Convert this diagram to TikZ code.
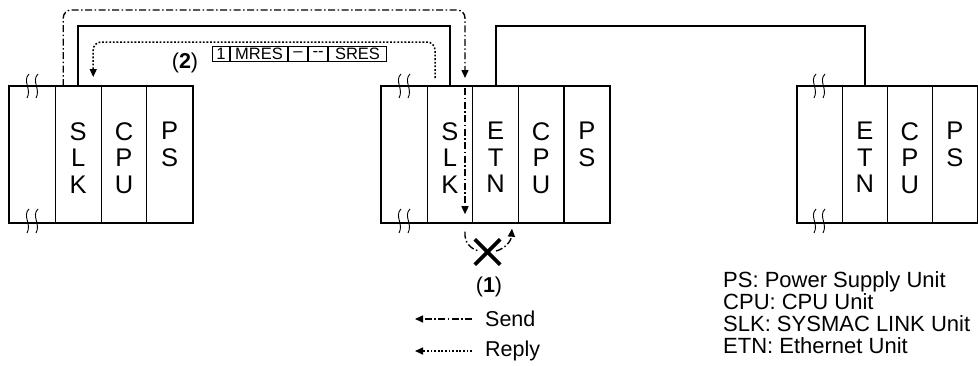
\documentclass[tikz,border=0pt]{standalone}
\usepackage{fontspec}
\setmainfont{Liberation Sans}
\usetikzlibrary{arrows.meta}
\begin{document}
\begin{tikzpicture}[x=1pt,y=-1pt,
  slot/.style={draw, line width=1.2pt, minimum height=135.5pt, inner sep=0pt, anchor=north west},
  rackout/.style={line width=2.2pt},
  lettr/.style={font=\fontsize{25.5}{26.5}\selectfont, align=center, inner sep=0pt, anchor=north},
  conn/.style={line width=2pt},
  send/.style={line width=1.4pt, dash pattern=on 7pt off 2.5pt on 1.5pt off 2.5pt},
  reply/.style={line width=1.5pt, dash pattern=on 1.8pt off 1.8pt},
  tip/.style={-{Triangle[length=8pt,width=7pt]}},
  cell/.style={draw, line width=1pt, minimum height=14.5pt, inner sep=0pt, anchor=west, font=\fontsize{16.5}{16.5}\selectfont},
  txt/.style={font=\fontsize{21.5}{22}\selectfont, inner sep=0pt},
  brk/.pic={\draw[line width=0.9pt] (1,-12) .. controls (-6,-5) and (4,3) .. (-1,12);
            \draw[line width=0.9pt] (10,-12) .. controls (3,-5) and (13,3) .. (8,12);}
]
\useasboundingbox (0,0) rectangle (978,365);

% ---------- racks ----------
\foreach \i in {0,...,3} {
  \node[slot, minimum width=45.75pt] (L\i) at (9+45.75*\i,86) {};
}
\foreach \i in {0,...,4} {
  \node[slot, minimum width=45.6pt] (M\i) at (381+45.6*\i,86) {};
}
\foreach \i in {0,...,3} {
  \node[slot, minimum width=44.9pt] (R\i) at (797+44.9*\i,86) {};
}
\draw[rackout] (L0.north west) rectangle (L3.south east);
\draw[rackout] (M0.north west) rectangle (M4.south east);
\draw[rackout] (R0.north west) rectangle (R3.south east);

% break marks
\pic at (28,86) {brk};
\pic at (28,221) {brk};
\pic at (400,86) {brk};
\pic at (400,221) {brk};
\pic at (815,86) {brk};
\pic at (815,221) {brk};

% ---------- letters ----------
\coordinate (ltop) at (0,122);
\node[lettr] (tL1) at (L1 |- ltop) {S\\L\\K};
\node[lettr] (tL2) at (L2 |- ltop) {C\\P\\U};
\node[lettr] (tL3) at (L3 |- ltop) {P\\S};
\node[lettr] (tM1) at (M1 |- ltop) {S\\L\\K};
\node[lettr] (tM2) at (M2 |- ltop) {E\\T\\N};
\node[lettr] (tM3) at (M3 |- ltop) {C\\P\\U};
\node[lettr] (tM4) at (M4 |- ltop) {P\\S};
\node[lettr] (tR1) at (R1 |- ltop) {E\\T\\N};
\node[lettr] (tR2) at (R2 |- ltop) {C\\P\\U};
\node[lettr] (tR3) at (R3 |- ltop) {P\\S};

% ---------- network cables ----------
\draw[conn] (L1.north) -- ++(0,-60) -| (M1.north);
\draw[conn] (M2.north) -- ++(0,-60) -| (R1.north);

% ---------- send (dash-dot) ----------
\draw[send, tip, rounded corners=8pt] ([xshift=-15pt]L1.north) -- ++(0,-76) -| ([xshift=15pt,yshift=8pt]M1.north);
\draw[send, tip] ([xshift=15pt,yshift=-2pt]M1.north) -- ([xshift=15pt,yshift=8.5pt]M1.south);

\node[inner sep=0pt, minimum size=25pt] (cross) at (487.5,252) {};
\draw[line width=3.8pt] (cross.north west) -- (cross.south east);
\draw[line width=3.8pt] (cross.south west) -- (cross.north east);
\coordinate (c1s) at ([xshift=15pt,yshift=-9pt]M1.south);
\coordinate (c1e) at (479,251);
\coordinate (c2s) at (496,251);
\coordinate (c2e) at ([xshift=-7pt,yshift=-6pt]M2.south east);
\draw[send] (c1s) .. controls (464,243) and (471,249) .. (c1e);
\draw[send, tip] (c2s) .. controls (504,249) and (511,242) .. (c2e);

% ---------- reply (dotted) ----------
\draw[reply, tip, rounded corners=8pt] ([xshift=-15pt,yshift=8pt]M1.north) -- ++(0,-36) -| ([xshift=15pt,yshift=9pt]L1.north);

% ---------- frame format ----------
\node[txt, anchor=center] (lab2) at (185,63) {(\textbf{2})};
\node[cell, minimum width=17pt] (f1) at (212,54) {1};
\node[cell, minimum width=57pt] (f2) at (f1.east) {MRES};
\node[cell, minimum width=19pt] (f3) at (f2.east) {–};
\node[cell, minimum width=19pt] (f4) at (f3.east) {-{}-};
\node[cell, minimum width=58pt] (f5) at (f4.east) {SRES};

% ---------- (1) and legend ----------
\node[txt, anchor=center] (lab1) at (489,287) {(\textbf{1})};
\node[txt, anchor=west] (sendtxt) at (485,319) {Send};
\node[txt, anchor=west] (replytxt) at (485,351) {Reply};
\coordinate (sa) at ([xshift=-13pt]sendtxt.west);
\coordinate (sb) at ([xshift=-70pt]sendtxt.west);
\coordinate (ra) at ([xshift=-13pt]replytxt.west);
\coordinate (rb) at ([xshift=-70pt]replytxt.west);
\draw[send, tip] (sa) -- (sb);
\draw[reply, tip] (ra) -- (rb);

\node[font=\fontsize{22}{22}\selectfont, inner sep=0pt, anchor=north west, align=left] (legend) at (723,271.5)
  {PS: Power Supply Unit\\CPU: CPU Unit\\SLK: SYSMAC LINK Unit\\ETN: Ethernet Unit};
\end{tikzpicture}
\end{document}
